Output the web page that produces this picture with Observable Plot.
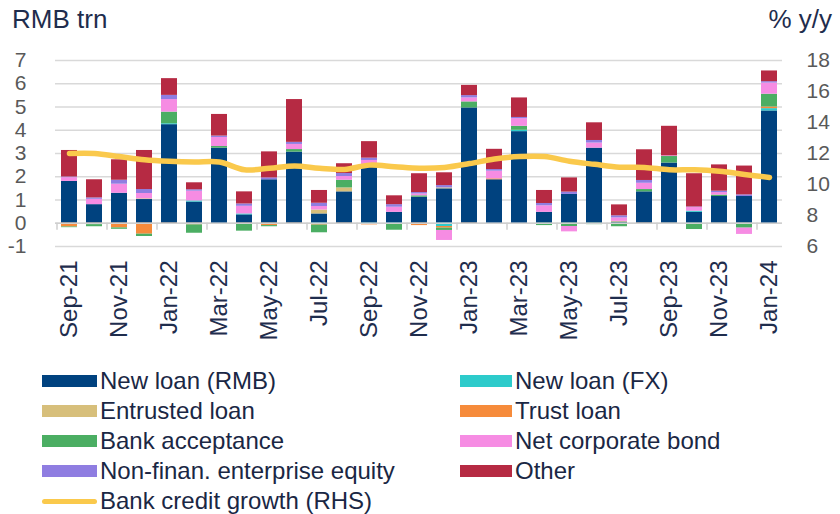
<!DOCTYPE html>
<html><head><meta charset="utf-8">
<script src="https://cdn.jsdelivr.net/npm/d3@7"></script>
<script src="https://cdn.jsdelivr.net/npm/@observablehq/plot@0.6"></script>
<style>
body{margin:0;background:#fff;font-family:"Liberation Sans",Arial,sans-serif;}
#wrap{position:relative;width:840px;height:514px;overflow:hidden;}
.hdr{position:absolute;top:4px;font-size:26px;color:#1f2d4d;line-height:30px;z-index:2;}
.lg{position:absolute;height:30px;display:flex;align-items:center;font-size:24px;color:#1a2744;white-space:nowrap;}
.sw{display:inline-block;margin-right:3px;}
</style></head><body><div id="wrap">
<div id="chart" style="position:absolute;left:0;top:0"></div>
<div class="hdr" style="left:12px">RMB trn</div>
<div class="hdr" style="right:8px">% y/y</div>
<div id="legend" style="position:absolute;left:0;top:360px;width:840px;height:154px"></div>
</div>
<script>
const months = ["Sep-21","Oct-21","Nov-21","Dec-21","Jan-22","Feb-22","Mar-22","Apr-22","May-22","Jun-22","Jul-22","Aug-22","Sep-22","Oct-22","Nov-22","Dec-22","Jan-23","Feb-23","Mar-23","Apr-23","May-23","Jun-23","Jul-23","Aug-23","Sep-23","Oct-23","Nov-23","Dec-23","Jan-24"];
const labeledMonths = months.filter((m, i) => i % 2 === 0);

const seriesNames = ["New loan (RMB)","New loan (FX)","Entrusted loan","Trust loan","Bank acceptance","Net corporate bond","Non-finan. enterprise equity","Other"];
const lineName = "Bank credit growth (RHS)";
const colors = ["#00427f","#2dcbcb","#d7bf7b","#f68b3b","#4bae63","#f68ce3","#8f7de1","#b62a43"];
const lineColor = "#fac94c";

const newLoanRMB   = [1.80,0.80,1.29,1.02,4.24,0.91,3.23,0.36,1.87,3.06,0.40,1.35,2.45,0.47,1.12,1.48,4.96,1.87,3.94,0.47,1.24,3.23,0.05,1.35,2.59,0.47,1.15,1.15,4.83];
const newLoanFX    = [0,0,0,0,0.04,0.05,0,0.04,0,0,-0.03,0,-0.03,-0.05,0,-0.14,0,0,0.06,0,0,0,0,0,0,0.05,0,0,0.10];
const entrusted    = [0,0,0,0.03,0,0,0,0,0,0,0.17,0.17,0,0,0,0.04,0,0,0,0,0,0,0.03,0,-0.05,0,-0.05,-0.04,0];
const trustLoan    = [-0.16,-0.06,-0.20,-0.47,-0.05,-0.07,0,-0.04,-0.10,-0.05,-0.05,-0.05,-0.04,0,-0.10,-0.07,-0.05,0.04,0,0,0,0,0,-0.05,0,0,0,0,0.07];
const bankAccept   = [-0.03,-0.09,-0.06,-0.10,0.50,-0.36,0.07,-0.30,-0.05,0.11,-0.33,0.33,0.05,-0.25,0.06,-0.10,0.26,0,0.17,-0.10,-0.14,-0.06,-0.15,0.10,0.28,-0.27,0.06,-0.17,0.55];
const corpBond     = [0.16,0.23,0.39,0.23,0.54,0.42,0.39,0.33,0,0.22,0.15,0.16,0.20,0.22,0.08,-0.43,0.17,0.33,0.33,0.28,-0.23,0.22,0.15,0.27,0.03,0.16,0.11,-0.27,0.48];
const equity       = [0.03,0.06,0.17,0.17,0.18,0.06,0.06,0.10,0.08,0.09,0.14,0.13,0.10,0.11,0.06,0.10,0.10,0.07,0.05,0.10,0.10,0.11,0.09,0.12,0,0.02,0.06,0.07,0.06];
const other        = [1.14,0.78,0.88,1.68,0.72,0.30,0.93,0.52,1.12,1.84,0.55,0.42,0.71,0.38,0.81,0.55,0.44,0.87,0.84,0.56,0.61,0.76,0.47,1.32,1.27,1.43,1.13,1.24,0.46];
const creditGrowth = [12.0,12.0,11.8,11.6,11.5,11.45,11.45,10.95,11.05,11.2,11.05,10.97,11.25,11.15,11.05,11.1,11.35,11.65,11.8,11.8,11.5,11.3,11.12,11.1,10.95,10.95,10.85,10.65,10.45];

const leftTicks = [-1,0,1,2,3,4,5,6,7];
const rightTicks = [6,8,10,12,14,16,18];

const seriesValues = [newLoanRMB,newLoanFX,entrusted,trustLoan,bankAccept,corpBond,equity,other];
const rows = [];
seriesNames.forEach((s, k) => months.forEach((m, i) => {
  const v = seriesValues[k][i];
  if (v !== 0) rows.push({month: m, series: s, value: v});
}));

// right axis (6..18) mapped onto left axis (-1..7)
const toLeft = p => (p - 6) * (8 / 12) - 1;
const fromLeft = y => (y + 1) * 1.5 + 6;
const lineRows = months.map((m, i) => ({month: m, y: toLeft(creditGrowth[i])}));

const chart = Plot.plot({
  width: 840, height: 360,
  marginLeft: 55, marginRight: 58, marginTop: 60, marginBottom: 114,
  x: {domain: months, paddingInner: 0.36, paddingOuter: 0.18, label: null},
  y: {domain: [-1, 7], label: null},
  color: {domain: seriesNames, range: colors},
  style: {fontFamily: "'Liberation Sans', Arial, sans-serif", fontSize: "21px", background: "white", overflow: "visible"},
  marks: [
    Plot.gridY(leftTicks, {stroke: "#d9d9d9", strokeOpacity: 1, strokeWidth: 1.6}),
    Plot.barY(rows, {x: "month", y: "value", fill: "series", z: "series", order: seriesNames}),
    Plot.ruleY([0], {stroke: "#cfcfcf", strokeWidth: 1.6}),
    Plot.ruleX(labeledMonths, {x: d => d, y1: 0, y2: -0.3, dx: -12.5, stroke: "#cfcfcf", strokeWidth: 1.5}),
    Plot.line(lineRows, {x: "month", y: "y", stroke: lineColor, strokeWidth: 5.5, curve: "catmull-rom"}),
    Plot.axisY(leftTicks, {anchor: "left", tickSize: 0, tickPadding: 29, fill: "#595959", fontSize: 21, tickFormat: d => String(d)}),
    Plot.axisY(rightTicks.map(toLeft), {anchor: "right", tickSize: 0, tickPadding: 24, fill: "#595959", fontSize: 21, tickFormat: y => String(Math.round(fromLeft(y)))}),
    Plot.axisX(labeledMonths, {anchor: "bottom", tickSize: 0, tickPadding: 14, tickRotate: -90, fill: "#1f2d4d", fontSize: 24})
  ]
});
document.getElementById("chart").appendChild(chart);

// legend
const legend = document.getElementById("legend");
const items = seriesNames.map((s, i) => ({name: s, color: colors[i], line: false}));
items.push({name: lineName, color: lineColor, line: true});
items.forEach((it, i) => {
  const col = it.line ? 0 : i % 2, row = it.line ? 4 : Math.floor(i / 2);
  const d = document.createElement("div");
  d.className = "lg";
  d.style.left = (col === 0 ? 42 : 460) + "px";
  d.style.top = (6 + row * 30) + "px";
  const sw = document.createElement("span");
  sw.className = "sw";
  sw.style.width = (col === 0 ? 55 : 52) + "px";
  sw.style.height = it.line ? "5px" : "12px";
  sw.style.background = it.color;
  if (it.line) sw.style.borderRadius = "3px";
  d.appendChild(sw);
  d.appendChild(document.createTextNode(it.name));
  legend.appendChild(d);
});
</script>
</body></html>
